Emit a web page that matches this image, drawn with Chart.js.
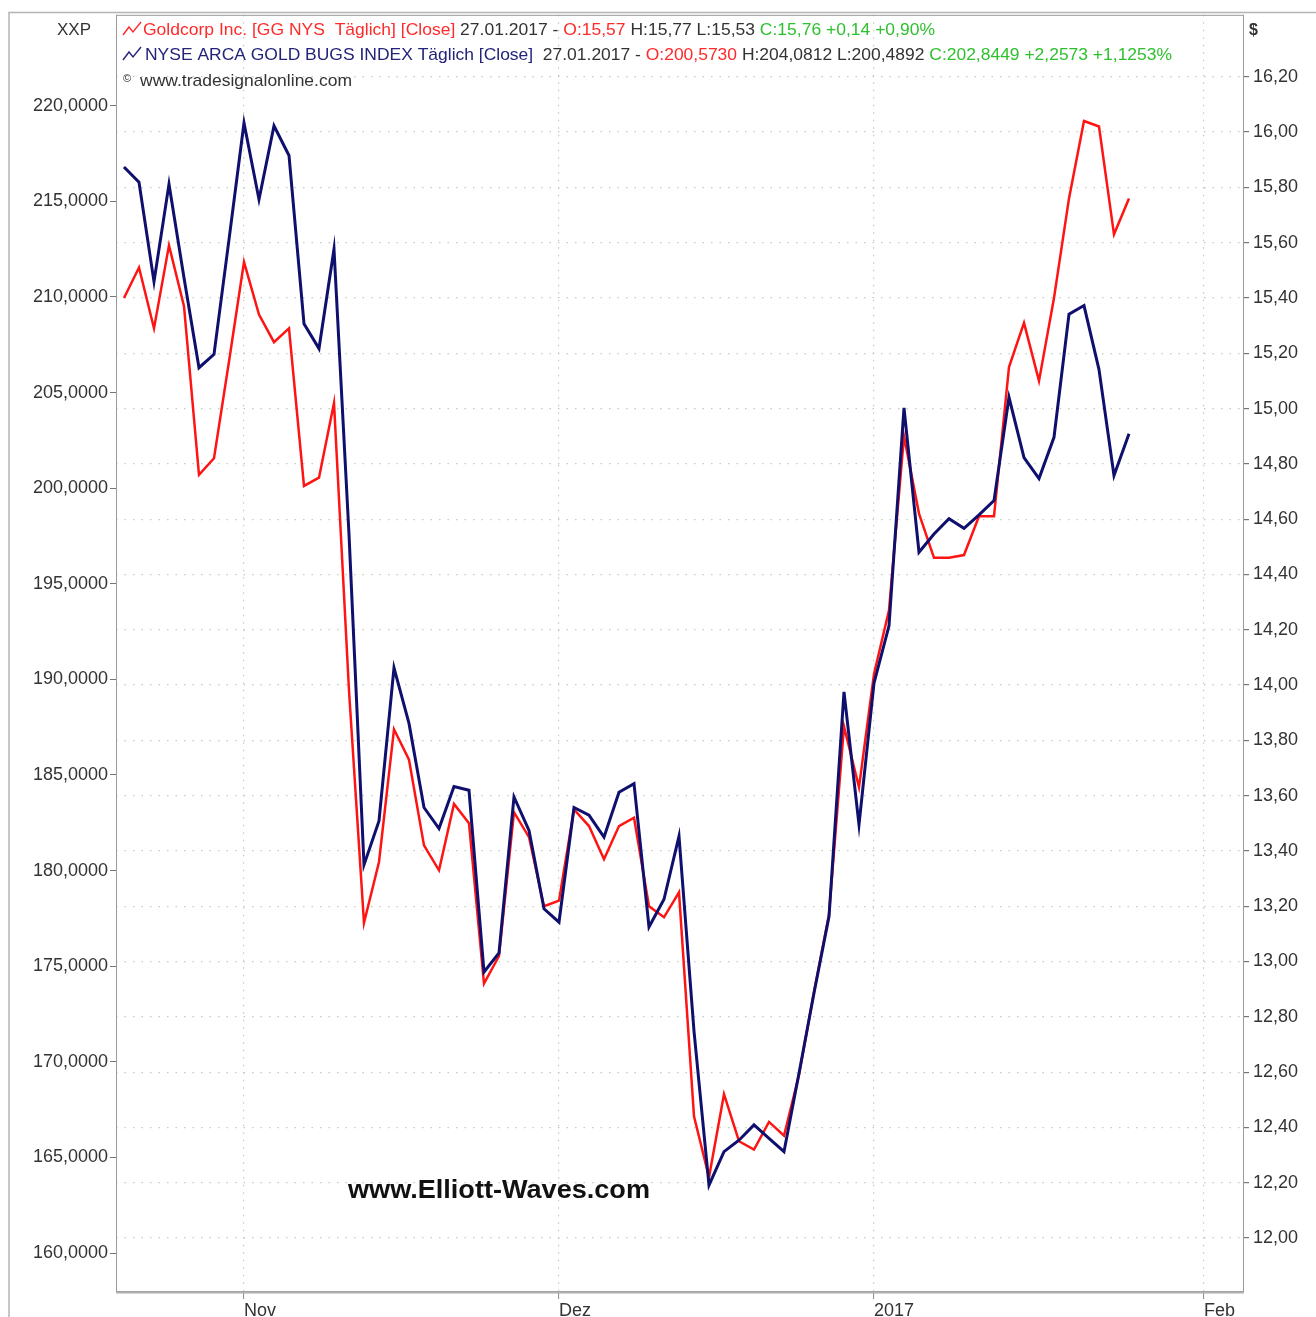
<!DOCTYPE html>
<html>
<head>
<meta charset="utf-8">
<script src="https://cdn.jsdelivr.net/npm/chart.js@4.4.1/dist/chart.umd.min.js"></script>
<style>
  html, body { margin: 0; padding: 0; background: #fff; }
</style>
</head>
<body>
<canvas id="chart" width="1316" height="1317"></canvas>
<script>
// trading-day series, 20.10.2016 .. 27.01.2017 (one value per session)
const hui = [
  216.8, 216.0, 210.8, 215.9, 211.0, 206.3, 207.0, 213.0, 219.1, 215.1,
  218.95, 217.4, 208.6, 207.3, 212.5, 197.6, 180.3, 182.6, 190.6, 187.7,
  183.3, 182.2, 184.4, 184.2, 174.7, 175.7, 183.85, 182.1, 178.0, 177.3,
  183.3, 182.9, 181.75, 184.1, 184.55, 177.05, 178.5, 181.8, 171.6, 163.55,
  165.3, 165.9, 166.7, 166.0, 165.3, 169.4, 173.6, 177.6, 189.35, 182.4,
  189.8, 192.8, 204.2, 196.65, 197.6, 198.4, 197.9, 198.6, 199.35, 204.75,
  201.6, 200.5, 202.66, 209.1, 209.55, 206.2, 200.66, 202.84
];
const goldcorp = [
  15.40, 15.51, 15.29, 15.59, 15.37, 14.76, 14.82, 15.17, 15.53, 15.34,
  15.24, 15.29, 14.72, 14.75, 15.02, 13.98, 13.14, 13.36, 13.84, 13.73,
  13.42, 13.33, 13.57, 13.50, 12.92, 13.02, 13.54, 13.45, 13.20, 13.22,
  13.55, 13.49, 13.37, 13.49, 13.52, 13.20, 13.16, 13.25, 12.44, 12.22,
  12.52, 12.35, 12.32, 12.42, 12.37, 12.59, 12.89, 13.17, 13.85, 13.63,
  14.04, 14.27, 14.90, 14.62, 14.46, 14.46, 14.47, 14.61, 14.61, 15.15,
  15.31, 15.10, 15.40, 15.76, 16.04, 16.02, 15.63, 15.76
];

const monthTickPos = [8, 29, 50, 72];
const monthLabels = ["Nov", "Dez", "2017", "Feb"];
const leftTicks = [160, 165, 170, 175, 180, 185, 190, 195, 200, 205, 210, 215, 220];
const rightTicks = [12.0, 12.2, 12.4, 12.6, 12.8, 13.0, 13.2, 13.4, 13.6, 13.8, 14.0,
                    14.2, 14.4, 14.6, 14.8, 15.0, 15.2, 15.4, 15.6, 15.8, 16.0, 16.2];

const legendLines = [
  [["Goldcorp Inc. [GG NYS  Täglich] [Close]", "#ff2a2a"], [" 27.01.2017 - ", "#333"],
   ["O:15,57", "#ff2a2a"], [" H:15,77 L:15,53 ", "#333"], ["C:15,76 +0,14 +0,90%", "#2fc02f"]],
  [["NYSE ARCA GOLD BUGS INDEX Täglich [Close]", "#23237a"], ["  27.01.2017 - ", "#333"],
   ["O:200,5730", "#ff2a2a"], [" H:204,0812 L:200,4892 ", "#333"], ["C:202,8449 +2,2573 +1,1253%", "#2fc02f"]]
];

const FONT = '"Liberation Sans", Arial, sans-serif';
const GRID = "#bfcfbb";
const comma = (v, d) => v.toFixed(d).replace(".", ",");

function drawRuns(ctx, runs, x, y, width) {
  ctx.font = "17px " + FONT;
  const full = runs.map(r => r[0]).join("");
  const k = width / ctx.measureText(full).width;
  ctx.save();
  ctx.translate(x, y);
  ctx.scale(k, 1);
  let cx = 0;
  runs.forEach(r => {
    ctx.fillStyle = r[1];
    ctx.fillText(r[0], cx, 0);
    cx += ctx.measureText(r[0]).width;
  });
  ctx.restore();
}

function zigzag(ctx, x, y, color) {
  ctx.save();
  ctx.strokeStyle = color;
  ctx.lineWidth = 1.4;
  ctx.beginPath();
  ctx.moveTo(x, y + 13);
  ctx.lineTo(x + 6, y + 5);
  ctx.lineTo(x + 10, y + 10);
  ctx.lineTo(x + 18, y);
  ctx.stroke();
  ctx.restore();
}

const decor = {
  id: "decor",
  beforeDraw(chart) {
    const ctx = chart.ctx;
    ctx.save();
    ctx.fillStyle = "#fff";
    ctx.fillRect(0, 0, chart.width, chart.height);
    ctx.restore();
  },
  afterDraw(chart) {
    const ctx = chart.ctx;
    const a = chart.chartArea;
    ctx.save();
    // outer frame
    ctx.strokeStyle = "#b4b4b4";
    ctx.lineWidth = 1.5;
    ctx.beginPath();
    ctx.moveTo(9, chart.height);
    ctx.lineTo(9, 12.5);
    ctx.lineTo(chart.width, 12.5);
    ctx.stroke();
    // plot frame
    ctx.strokeStyle = "#9a9a9a";
    ctx.lineWidth = 1;
    ctx.strokeRect(a.left + 0.5, a.top + 0.5, a.right - a.left, a.bottom - a.top);
    ctx.strokeStyle = "#b0b0b0";
    ctx.lineWidth = 2;
    ctx.beginPath();
    ctx.moveTo(a.left, a.bottom + 1.5);
    ctx.lineTo(a.right + 1, a.bottom + 1.5);
    ctx.stroke();

    // axis captions
    ctx.font = "17px " + FONT;
    ctx.fillStyle = "#333";
    ctx.fillText("XXP", 57, 35);
    ctx.font = "bold 16px " + FONT;
    ctx.fillText("$", 1249, 35);

    // legend
    zigzag(ctx, 123, 22, "#ff2a2a");
    drawRuns(ctx, legendLines[0], 143, 35, 792);
    zigzag(ctx, 123, 47, "#23237a");
    drawRuns(ctx, legendLines[1], 145, 60, 1027);
    ctx.font = "11px " + FONT;
    ctx.fillStyle = "#333";
    ctx.fillText("©", 123, 82);
    drawRuns(ctx, [["www.tradesignalonline.com", "#333"]], 140, 86, 212);

    // watermark
    ctx.font = "bold 26px " + FONT;
    const wm = "www.Elliott-Waves.com";
    const k = 302 / ctx.measureText(wm).width;
    ctx.translate(348, 1198);
    ctx.scale(k, 1);
    ctx.fillStyle = "#111";
    ctx.fillText(wm, 0, 0);
    ctx.restore();
  }
};

new Chart(document.getElementById("chart"), {
  type: "line",
  data: {
    datasets: [
      {
        label: "NYSE ARCA GOLD BUGS INDEX",
        data: hui.map((v, i) => ({ x: i, y: v })),
        yAxisID: "yL",
        borderColor: "#0f0f6e",
        borderWidth: 3,
        pointRadius: 0,
        tension: 0
      },
      {
        label: "Goldcorp Inc.",
        data: goldcorp.map((v, i) => ({ x: i, y: v })),
        yAxisID: "yR",
        borderColor: "#ff1414",
        borderWidth: 2.5,
        pointRadius: 0,
        tension: 0
      }
    ]
  },
  options: {
    responsive: false,
    animation: false,
    layout: { padding: { top: 14, left: 0, right: 0, bottom: 0 } },
    plugins: { legend: { display: false }, tooltip: { enabled: false } },
    scales: {
      x: {
        type: "linear",
        min: -0.533,
        max: 74.6,
        afterBuildTicks: s => { s.ticks = monthTickPos.map(v => ({ value: v })); },
        afterFit: s => { s.height = 26; },
        ticks: {
          callback: v => monthLabels[monthTickPos.indexOf(v)],
          align: "start",
          maxRotation: 0,
          autoSkip: false,
          padding: 1,
          color: "#333",
          font: { family: FONT, size: 18 }
        },
        grid: { color: GRID, lineWidth: 1.2, tickColor: "#888", tickLength: 8, tickWidth: 1 },
        border: { display: false, dash: [1.5, 6] }
      },
      yL: {
        position: "left",
        min: 158.014,
        max: 224.756,
        afterBuildTicks: s => { s.ticks = leftTicks.map(v => ({ value: v })); },
        afterFit: s => { s.width = 116; },
        ticks: {
          callback: v => comma(v, 4),
          padding: 2,
          color: "#333",
          font: { family: FONT, size: 18 }
        },
        grid: { drawOnChartArea: false, tickColor: "#777", tickLength: 6 },
        border: { display: false }
      },
      yR: {
        position: "right",
        min: 11.8084,
        max: 16.424,
        afterBuildTicks: s => { s.ticks = rightTicks.map(v => ({ value: v })); },
        afterFit: s => { s.width = 73; },
        ticks: {
          callback: v => comma(v, 2),
          padding: 4,
          color: "#333",
          font: { family: FONT, size: 18 }
        },
        grid: { color: GRID, lineWidth: 1.2, tickColor: "#777", tickLength: 6 },
        border: { display: false, dash: [1.5, 7] }
      }
    }
  },
  plugins: [decor]
});
</script>
</body>
</html>
